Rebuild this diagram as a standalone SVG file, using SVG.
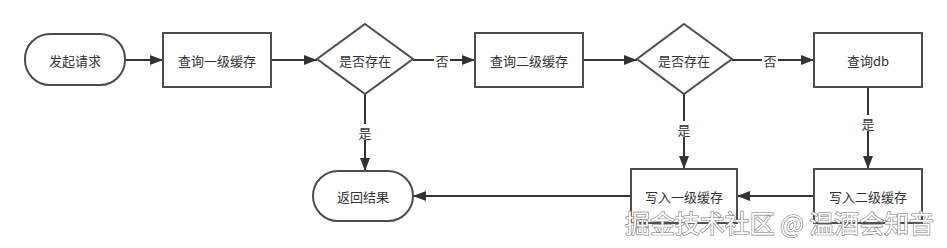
<svg xmlns="http://www.w3.org/2000/svg" width="947" height="248" viewBox="0 0 947 248">
<style>
.n{fill:#ffffff;stroke:#4d4d4d;stroke-width:2}
.t{font-family:"Noto Sans CJK SC","Liberation Sans",sans-serif;font-size:13px;fill:#333;text-anchor:middle;dominant-baseline:central}
.c{stroke:#333;stroke-width:2;fill:none;marker-end:url(#a)}
.lb{fill:#fff}
.wm{font-family:"Noto Sans CJK SC",sans-serif;font-size:25px;fill:#fff;stroke:#777;stroke-width:1.2;paint-order:stroke}
</style>
<defs>
<marker id="a" markerWidth="14" markerHeight="10" refX="13" refY="5" orient="auto" markerUnits="userSpaceOnUse">
<path d="M0,0 L13,5 L0,10 Z" fill="#333"/>
</marker>
</defs>
<rect width="947" height="248" fill="#fff"/>
<g id="connectors">
<line class="c" x1="125" y1="60" x2="163" y2="60"/>
<line class="c" x1="271" y1="60" x2="317" y2="60"/>
<line class="c" x1="413" y1="60" x2="475" y2="60"/>
<line class="c" x1="583" y1="60" x2="637" y2="60"/>
<line class="c" x1="732" y1="60" x2="814" y2="60"/>
<line class="c" x1="365" y1="94" x2="365" y2="171"/>
<line class="c" x1="684" y1="94" x2="684" y2="169"/>
<line class="c" x1="868" y1="87" x2="868" y2="169"/>
<line class="c" x1="814" y1="196" x2="737" y2="196"/>
<line class="c" x1="631" y1="196" x2="413" y2="196"/>
<rect class="lb" x="434" y="52" width="16" height="16"/>
<text class="t" x="442" y="60">否</text>
<rect class="lb" x="762" y="52" width="16" height="16"/>
<text class="t" x="770" y="60">否</text>
<rect class="lb" x="357" y="124" width="16" height="16"/>
<text class="t" x="365" y="132">是</text>
<rect class="lb" x="676" y="121" width="16" height="16"/>
<text class="t" x="684" y="129">是</text>
<rect class="lb" x="860" y="115" width="16" height="16"/>
<text class="t" x="868" y="123">是</text>
</g>
<g id="start"><rect class="n" x="25" y="34" width="100" height="51" rx="25" ry="25"/><text class="t" x="75" y="60">发起请求</text></g>
<g id="l1"><rect class="n" x="163" y="33" width="108" height="54"/><text class="t" x="217" y="60">查询一级缓存</text></g>
<g id="d1"><polygon class="n" points="365,24 413,59 365,94 317,59"/><text class="t" x="365" y="60">是否存在</text></g>
<g id="l2"><rect class="n" x="475" y="33" width="108" height="54"/><text class="t" x="529" y="60">查询二级缓存</text></g>
<g id="d2"><polygon class="n" points="684,24 732,59 684,94 637,59"/><text class="t" x="684" y="60">是否存在</text></g>
<g id="db"><rect class="n" x="814" y="33" width="108" height="54"/><text class="t" x="868" y="60">查询db</text></g>
<g id="w2"><rect class="n" x="814" y="169" width="108" height="54"/><text class="t" x="868" y="196">写入二级缓存</text></g>
<g id="w1"><rect class="n" x="631" y="169" width="106" height="54"/><text class="t" x="684" y="196">写入一级缓存</text></g>
<g id="ret"><rect class="n" x="313" y="171" width="100" height="50" rx="25" ry="25"/><text class="t" x="363" y="196">返回结果</text></g>
<text class="wm" x="625" y="233" textLength="309" lengthAdjust="spacingAndGlyphs">掘金技术社区 @ 温酒会知音</text>
</svg>
